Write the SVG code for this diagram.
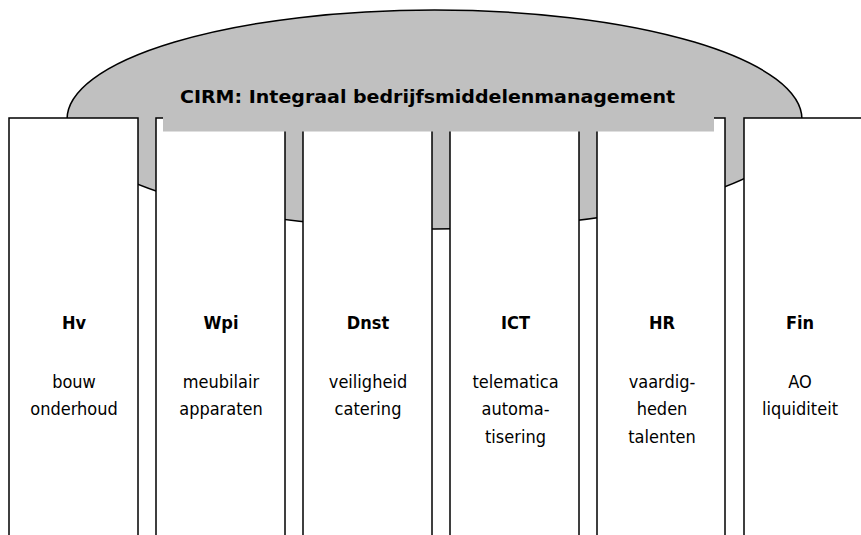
<svg xmlns="http://www.w3.org/2000/svg" width="861" height="535" viewBox="0 0 861 535">
  <style>
    .roof { fill: #c0c0c0; stroke: #000; stroke-width: 1.5; }
    .band { fill: #c0c0c0; stroke: none; }
    .pillar { fill: #fff; stroke: #000; stroke-width: 1.5; }
    .title { font-family: "DejaVu Sans Condensed", "DejaVu Sans", sans-serif; font-weight: bold; font-size: 18px; fill: #000; }
    .head { font-family: "DejaVu Sans Condensed", "DejaVu Sans", sans-serif; font-weight: bold; font-size: 18px; fill: #000; text-anchor: middle; }
    .body { font-family: "DejaVu Sans Condensed", "DejaVu Sans", sans-serif; font-size: 18px; fill: #000; text-anchor: middle; }
  </style>

  <!-- Overarching roof -->
  <g id="roof">
    <ellipse class="roof" cx="434.5" cy="119.5" rx="367.5" ry="109.5"/>
  </g>

  <!-- Pillars -->
  <g id="pillar-hv">
    <rect class="pillar" x="9" y="118" width="129" height="430"/>
    <text class="head" x="74" y="329">Hv</text>
    <text class="body" x="74" y="387.5">bouw</text>
    <text class="body" x="74" y="415">onderhoud</text>
  </g>
  <g id="pillar-wpi">
    <rect class="pillar" x="156" y="118" width="129" height="430"/>
    <text class="head" x="221" y="329">Wpi</text>
    <text class="body" x="221" y="387.5">meubilair</text>
    <text class="body" x="221" y="415">apparaten</text>
  </g>
  <g id="pillar-dnst">
    <rect class="pillar" x="303" y="118" width="129" height="430"/>
    <text class="head" x="368" y="329">Dnst</text>
    <text class="body" x="368" y="387.5">veiligheid</text>
    <text class="body" x="368" y="415">catering</text>
  </g>
  <g id="pillar-ict">
    <rect class="pillar" x="450" y="118" width="129" height="430"/>
    <text class="head" x="515.5" y="329">ICT</text>
    <text class="body" x="515.5" y="387.5">telematica</text>
    <text class="body" x="515.5" y="415">automa-</text>
    <text class="body" x="515.5" y="442.5">tisering</text>
  </g>
  <g id="pillar-hr">
    <rect class="pillar" x="597" y="118" width="128" height="430"/>
    <text class="head" x="662" y="329">HR</text>
    <text class="body" x="662" y="387.5">vaardig-</text>
    <text class="body" x="662" y="415">heden</text>
    <text class="body" x="662" y="442.5">talenten</text>
  </g>
  <g id="pillar-fin">
    <rect class="pillar" x="744" y="118" width="140" height="430"/>
    <text class="head" x="800" y="329">Fin</text>
    <text class="body" x="800" y="387.5">AO</text>
    <text class="body" x="800" y="415">liquiditeit</text>
  </g>

  <!-- Title band across the pillar tops -->
  <g id="title">
    <rect class="band" x="163" y="60" width="551" height="71.5"/>
    <text class="title" x="180" y="103" textLength="495" lengthAdjust="spacingAndGlyphs">CIRM: Integraal bedrijfsmiddelenmanagement</text>
  </g>
</svg>
